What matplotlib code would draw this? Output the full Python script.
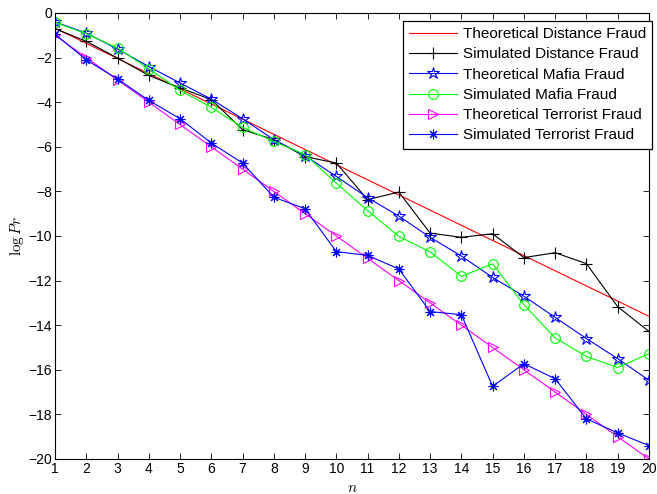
import numpy as np
import matplotlib
matplotlib.use('Agg')
import matplotlib.pyplot as plt

plt.rcParams['font.family'] = ['Liberation Sans', 'DejaVu Sans']
plt.rcParams['mathtext.fontset'] = 'cm'

n = np.arange(1, 21)

# log Pr values
theo_distance = [-0.68, -1.36, -2.04, -2.72, -3.40, -4.08, -4.76, -5.44, -6.12, -6.80,
                 -7.48, -8.16, -8.84, -9.52, -10.20, -10.88, -11.56, -12.24, -12.92, -13.60]
sim_distance = [-0.70, -1.27, -2.02, -2.80, -3.36, -3.88, -5.23, -5.68, -6.44, -6.73,
                -8.37, -8.03, -9.87, -10.06, -9.90, -10.97, -10.75, -11.24, -13.17, -14.28]
theo_mafia = [-0.40, -0.90, -1.62, -2.40, -3.14, -3.86, -4.74, -5.68, -6.40, -7.33,
              -8.28, -9.11, -10.06, -10.90, -11.86, -12.70, -13.65, -14.60, -15.50, -16.47]
sim_mafia = [-0.42, -0.93, -1.57, -2.50, -3.47, -4.23, -5.13, -5.76, -6.35, -7.63,
             -8.86, -10.02, -10.71, -11.81, -11.25, -13.08, -14.57, -15.40, -15.90, -15.28]
theo_terrorist = [-1, -2, -3, -4, -5, -6, -7, -8, -9, -10,
                  -11, -12, -13, -14, -15, -16, -17, -18, -19, -20]
sim_terrorist = [-0.95, -2.10, -2.96, -3.92, -4.74, -5.83, -6.73, -8.26, -8.78, -10.70,
                 -10.87, -11.48, -13.39, -13.53, -16.74, -15.73, -16.40, -18.20, -18.83, -19.40]

fig = plt.figure(figsize=(6.57, 4.94), dpi=100)
ax = fig.add_axes([0.0837, 0.0709, 0.904, 0.9028])

lw = 0.8
ms = 7
asterisk = (8, 2, 0)
ax.plot(n, theo_distance, color='r', lw=lw, label='Theoretical Distance Fraud')
ax.plot(n, sim_distance, color='k', lw=lw, marker='+', ms=ms + 1, mew=lw,
        label='Simulated Distance Fraud')
ax.plot(n, theo_mafia, color='b', lw=lw, marker='*', ms=ms + 2, mfc='none', mew=lw,
        label='Theoretical Mafia Fraud')
ax.plot(n, sim_mafia, color='#00ff00', lw=lw, marker='o', ms=ms, mfc='none', mew=lw,
        label='Simulated Mafia Fraud')
ax.plot(n, theo_terrorist, color='#ff00ff', lw=lw, marker='>', ms=ms, mfc='none', mew=lw,
        label='Theoretical Terrorist Fraud')
ax.plot(n, sim_terrorist, color='b', lw=lw, marker=asterisk, ms=ms, mew=lw,
        label='Simulated Terrorist Fraud')

ax.set_xlim(1, 20)
ax.set_ylim(-20, 0)
ax.set_xticks(n)
ax.set_yticks(np.arange(-20, 1, 2))
ax.tick_params(direction='in', length=4, width=0.6, top=True, right=True,
               labelsize=10, pad=2)
for s in ax.spines.values():
    s.set_linewidth(0.8)

ax.set_xlabel('$n$', fontsize=11, labelpad=4)
ax.set_ylabel(r'$\log Pr$', fontsize=11, labelpad=2)

leg = ax.legend(loc='upper right', bbox_to_anchor=(0.9924, 0.9575),
                bbox_transform=fig.transFigure, fontsize=11, fancybox=False,
                edgecolor='k', framealpha=1, handlelength=3.1, handletextpad=0.4,
                labelspacing=0.41, borderpad=0.4, borderaxespad=0)
leg.get_frame().set_linewidth(0.9)

fig.savefig('out.png', dpi=100)
